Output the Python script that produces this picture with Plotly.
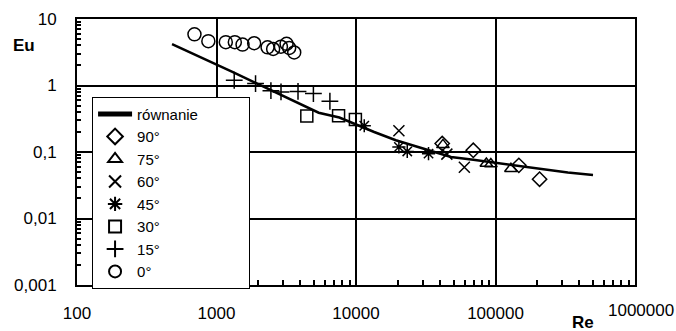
import plotly.graph_objects as go

# ---- data (Re, Eu) ----
line_re = [480, 1300, 5400, 7600, 13500, 19300, 48000, 69300, 330000, 500000]
line_eu = [4.2, 1.6, 0.39, 0.33, 0.20, 0.15, 0.084, 0.0765, 0.049, 0.045]

re_90 = [41500, 69300, 147000, 207000]
eu_90 = [0.134, 0.106, 0.063, 0.039]

re_75 = [42000, 86000, 92600, 129000]
eu_75 = [0.128, 0.067, 0.066, 0.056]

re_60 = [20300, 44800, 59800]
eu_60 = [0.209, 0.093, 0.059]

re_45 = [11460, 20300, 23300, 33100]
eu_45 = [0.248, 0.119, 0.102, 0.0945]

re_30 = [4440, 7500, 9900]
eu_30 = [0.348, 0.35, 0.308]

re_15 = [1340, 1905, 2455, 2900, 3840, 4950, 6500]
eu_15 = [1.2, 1.07, 0.835, 0.80, 0.815, 0.757, 0.58]

re_0 = [695, 874, 1166, 1353, 1537, 1862, 2323, 2547, 2896, 3179, 3319, 3606]
eu_0 = [5.88, 4.64, 4.48, 4.48, 4.12, 4.32, 3.75, 3.54, 3.84, 4.23, 3.67, 3.14]

x_tickvals = [100, 1000, 10000, 100000, 1000000]
x_ticktext = ["100", "1000", "10000", "100000", ""]
y_tickvals = [0.001, 0.01, 0.1, 1, 10]
y_ticktext = ["0,001", "0,01", "0,1", "1", "10"]

FONT = "Arial, 'Liberation Sans', sans-serif"
PAD = "\u00a0" * 11  # widens the legend box like the original

fig = go.Figure()
fig.add_trace(go.Scatter(x=line_re, y=line_eu, mode="lines", name="równanie" + PAD,
                         line=dict(color="black", width=2.5)))

series = [
    ("90°", re_90, eu_90, "diamond-open", 11),
    ("75°", re_75, eu_75, "triangle-up-open", 11),
    ("60°", re_60, eu_60, "x-thin-open", 11),
    ("45°", re_45, eu_45, "asterisk-open", 11),
    ("30°", re_30, eu_30, "square-open", 12),
    ("15°", re_15, eu_15, "cross-thin-open", 12),
    ("0°", re_0, eu_0, "circle-open", 13),
]
for name, xs, ys, sym, sz in series:
    fig.add_trace(go.Scatter(x=xs, y=ys, mode="markers", name=name,
                             marker=dict(symbol=sym, size=sz, color="black",
                                         line=dict(color="black", width=1.5))))

def minor_vals(lo, hi):
    out = []
    d = lo
    while d < hi:
        for k in range(2, 10):
            out.append(k * d)
        d *= 10
    return out

fig.update_xaxes(type="log", range=[2, 6], tickvals=x_tickvals, ticktext=x_ticktext,
                 showgrid=True, gridcolor="black", gridwidth=1.5,
                 showline=True, linecolor="black", linewidth=2, mirror=True,
                 ticks="", ticklabelstandoff=12, ticklabeloverflow="allow", automargin=False,
                 tickfont=dict(family=FONT, size=17, color="black"),
                 minor=dict(tickvals=minor_vals(100, 1000000), ticks="inside", ticklen=5,
                            tickwidth=1.5, tickcolor="black", showgrid=False))
fig.update_yaxes(type="log", range=[-3, 1], tickvals=y_tickvals, ticktext=y_ticktext,
                 showgrid=True, gridcolor="black", gridwidth=1.5,
                 showline=True, linecolor="black", linewidth=2, mirror=True,
                 ticks="", ticklabelstandoff=15, automargin=False,
                 tickfont=dict(family=FONT, size=17, color="black"),
                 minor=dict(tickvals=minor_vals(0.001, 10), ticks="inside", ticklen=4,
                            tickwidth=1.5, tickcolor="black", showgrid=False))

fig.add_annotation(x=6, y=0, xref="x", yref="paper", text="1000000", showarrow=False,
                   xanchor="center", yanchor="middle", yshift=-25, xshift=6,
                   font=dict(family=FONT, size=17, color="black"))
fig.add_annotation(x=24, y=45, xref="paper", yref="paper", text="<b>Eu</b>", showarrow=False,
                   xanchor="center", yanchor="middle",
                   font=dict(family=FONT, size=17, color="black"))
fig.add_annotation(x=583, y=322, xref="paper", yref="paper", text="<b>Re</b>", showarrow=False,
                   xanchor="center", yanchor="middle",
                   font=dict(family=FONT, size=17, color="black"))

# convert the pixel-placed annotations to paper coords
W, H = 676, 331
L, R, T, B = 77, 41, 19, 46
pw, ph = W - L - R, H - T - B
for a in fig.layout.annotations[1:]:
    a.x = (a.x - L) / pw
    a.y = 1 - (a.y - T) / ph

fig.update_layout(
    width=W, height=H, margin=dict(l=L, r=R, t=T, b=B, autoexpand=False),
    paper_bgcolor="white", plot_bgcolor="white",
    font=dict(family=FONT, size=17, color="black"),
    showlegend=True,
    legend=dict(x=0.027, y=0.708, xanchor="left", yanchor="top",
                bgcolor="white", bordercolor="black", borderwidth=1,
                font=dict(family=FONT, size=15, color="black"),
                itemsizing="constant", itemwidth=34),
)
fig.write_html("out.html")
